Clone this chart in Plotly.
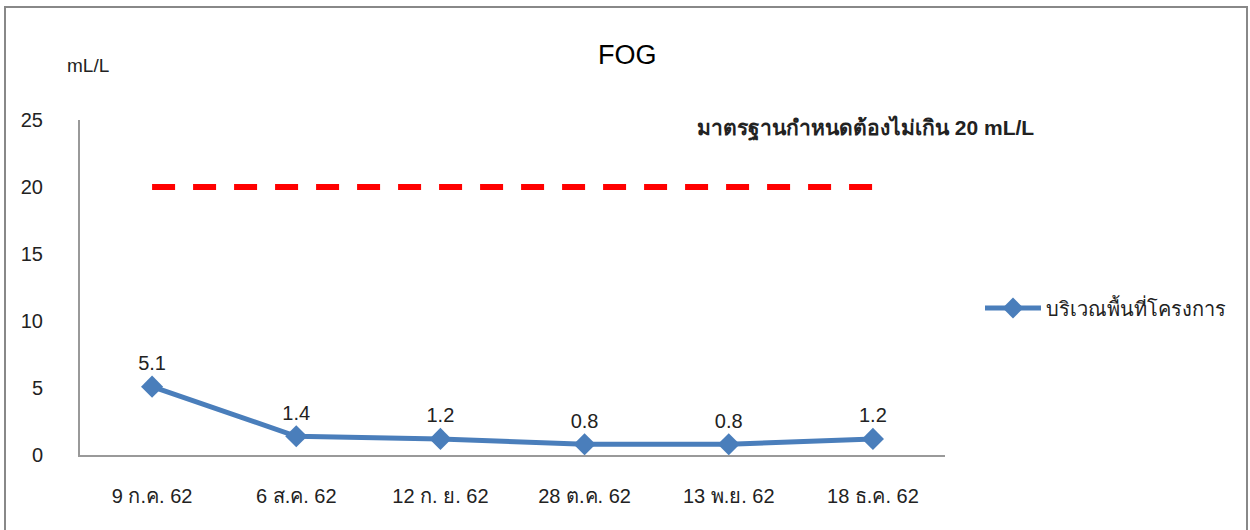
import plotly.graph_objects as go

# FOG measurements at the project site (mL/L)
dates = ["9 ก.ค. 62", "6 ส.ค. 62", "12 ก. ย. 62", "28 ต.ค. 62", "13 พ.ย. 62", "18 ธ.ค. 62"]
fog_values = [5.1, 1.4, 1.2, 0.8, 0.8, 1.2]
standard_limit = [20, 20, 20, 20, 20, 20]
y_ticks = [0, 5, 10, 15, 20, 25]

series_name = "บริเวณพื้นที่โครงการ"
limit_text = "มาตรฐานกำหนดต้องไม่เกิน 20 mL/L"

W, H = 1250, 530
L, R, T, B = 80, 305, 120, 75
plot_w, plot_h = W - L - R, H - T - B


def px_x(x):
    return (x - L) / plot_w


def px_y(y):
    return (H - B - y) / plot_h


font_family = "Liberation Sans, Arial, Noto Sans, sans-serif"
text_color = "#222222"

fig = go.Figure()

fig.add_trace(go.Scatter(
    x=dates, y=standard_limit, mode="lines",
    line=dict(color="#FF0000", width=6, dash="23px,18px"),
    showlegend=False, hoverinfo="skip",
))

fig.add_trace(go.Scatter(
    x=dates, y=fog_values, name=series_name,
    mode="lines+markers+text",
    line=dict(color="#4A7EBB", width=5),
    marker=dict(symbol="diamond", size=17, color="#4A7EBB"),
    text=[f"{v:g}" for v in fog_values],
    textposition="top center",
    textfont=dict(size=20, color=text_color, family=font_family),
))

fig.update_layout(
    width=W, height=H,
    margin=dict(l=L, r=R, t=T, b=B),
    paper_bgcolor="white", plot_bgcolor="white",
    font=dict(family=font_family, size=20, color=text_color),
    showlegend=True,
    legend=dict(
        x=px_x(980), y=px_y(308), xanchor="left", yanchor="middle",
        font=dict(size=20, color=text_color), itemwidth=56,
        bgcolor="rgba(0,0,0,0)",
    ),
    xaxis=dict(
        type="category", range=[-0.5, len(dates) - 0.5],
        showgrid=False, zeroline=False,
        showline=True, linecolor="#999999", linewidth=2,
        ticks="", ticklabelstandoff=22,
        tickfont=dict(size=20, color=text_color),
    ),
    yaxis=dict(
        range=[0, 25], tickvals=y_ticks, showgrid=False, zeroline=False,
        showline=True, linecolor="#999999", linewidth=2,
        ticks="", ticklabelstandoff=31,
        tickfont=dict(size=20, color=text_color),
    ),
    annotations=[
        dict(text="FOG", x=px_x(627), y=px_y(55), xref="paper", yref="paper",
             xanchor="center", yanchor="middle",
             showarrow=False, font=dict(size=27, color="black")),
        dict(text="mL/L", x=px_x(88), y=px_y(66), xref="paper", yref="paper",
             xanchor="center", yanchor="middle",
             showarrow=False, font=dict(size=19, color=text_color)),
        dict(text=f"<b>{limit_text}</b>", x=px_x(1036), y=px_y(128),
             xref="paper", yref="paper", xanchor="right", yanchor="middle",
             showarrow=False, font=dict(size=21, color=text_color)),
    ],
    shapes=[
        dict(type="rect", xref="paper", yref="paper",
             x0=px_x(5), x1=px_x(1247), y0=px_y(545), y1=px_y(7),
             line=dict(color="#888888", width=2), fillcolor="rgba(0,0,0,0)",
             layer="below"),
    ],
)

fig.write_html("out.html")
